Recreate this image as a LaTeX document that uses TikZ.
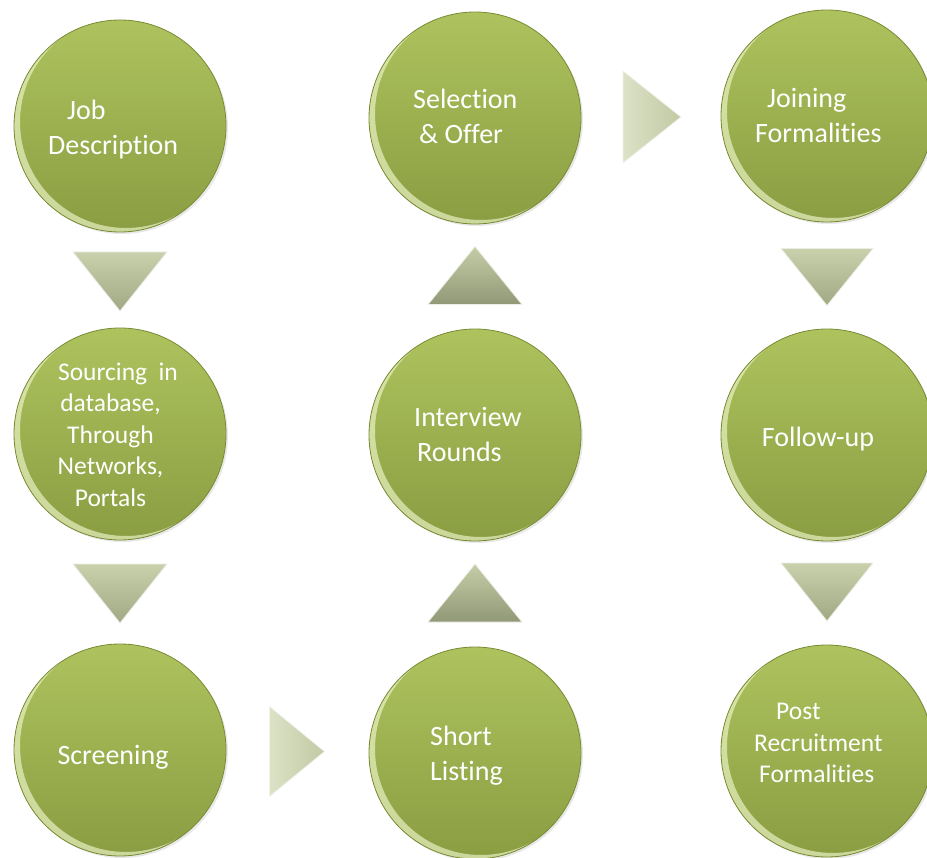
\documentclass[tikz,border=0pt]{standalone}
\usepackage{fontspec}
\setmainfont[RawFeature={-liga;-clig;-dlig;-calt}]{Carlito}
\usetikzlibrary{calc,shadows}
\definecolor{leafhi}{HTML}{AEC35E}
\definecolor{leaflo}{HTML}{8A9D42}
\definecolor{leafedge}{HTML}{778A33}
\definecolor{rimlight}{HTML}{F0F7CC}
\definecolor{arrowhi}{HTML}{C9D1AC}
\definecolor{arrowlo}{HTML}{A0A983}
\definecolor{arrowlight}{HTML}{DCE2C6}
\tikzstyle{bubble} = [circle, minimum size=212pt, inner sep=0pt, top color=leafhi, bottom color=leaflo,
  draw=leafedge, line width=0.8pt, drop shadow={opacity=0.18, shadow xshift=2pt, shadow yshift=-2pt},
  path picture={\fill[rimlight, opacity=0.65, even odd rule] (path picture bounding box.center) circle (106pt)
    ([shift={(6pt,4pt)}]path picture bounding box.center) circle (106pt);}]
\tikzstyle{txt} = [text=white, inner sep=0pt, align=left, font=\fontsize{28}{35}\selectfont,
  execute at begin node=\strut, execute at end node=\strut]
\tikzstyle{small} = [font=\fontsize{25.5}{31.5}\selectfont]
\tikzstyle{downtri} = [top color=arrowhi, bottom color=arrowlo, draw=white!80!arrowlo, line width=0.8pt, line join=round]
\tikzstyle{uptri} = [top color=arrowhi!90!arrowlo, bottom color=arrowlo!90!black, draw=white!80!arrowlo, line width=0.8pt, line join=round]
\tikzstyle{righttri} = [left color=arrowlight, right color=arrowhi!80!arrowlo, draw=white!85!arrowlo, line width=0.8pt, line join=round]

\begin{document}
\begin{tikzpicture}[x=1pt, y=-1pt]
      \useasboundingbox (0,0) rectangle (927,858);

      % Circles
      \node[bubble] (JD) at (120,126) {};
      \node[bubble] (SRC) at (120,434) {};
      \node[bubble] (SC) at (120,750) {};
      \node[bubble] (SO) at (475,118) {};
      \node[bubble] (IR) at (475,435) {};
      \node[bubble] (SL) at (475,753) {};
      \node[bubble] (JF) at (827,116) {};
      \node[bubble] (FU) at (827,435) {};
      \node[bubble] (PR) at (827,751) {};

      % Texts
      \node[txt, anchor=west] (JDt) at (48,132.5) {\hspace*{19pt}Job\\Description};
      \node[txt, small, align=center] (SRCt) at (110.5,439) {\hspace*{15pt}Sourcing\ \ in\\database,\\Through\\Networks,\\Portals};
      \node[txt] (SCt) at (113,757) {Screening};
      \node[txt, anchor=west] (SOt) at (413,121.5) {Selection\\\hspace*{6pt}\& Offer};
      \node[txt, anchor=west] (IRt) at (414,439.5) {Interview\\\hspace*{3pt}Rounds};
      \node[txt, anchor=west] (SLt) at (430,758.5) {Short\\Listing};
      \node[txt, anchor=west] (JFt) at (755,121) {\hspace*{12pt}Joining\\Formalities};
      \node[txt] (FUt) at (818,440) {Follow-up};
      \node[txt, small, anchor=west] (PRt) at (754,748) {\hspace*{22pt}Post\\Recruitment\\\hspace*{5pt}Formalities};

      % Arrows
      \coordinate (M1) at ($(JD)!0.5!(SRC)$);
      \coordinate (M2) at ($(SRC)!0.5!(SC)$);
      \coordinate (M3) at ($(SC)!0.5!(SL)$);
      \coordinate (M4) at ($(SL)!0.5!(IR)$);
      \coordinate (M5) at ($(IR)!0.5!(SO)$);
      \coordinate (M6) at ($(SO)!0.5!(JF)$);
      \coordinate (M7) at ($(JF)!0.5!(FU)$);
      \coordinate (M8) at ($(FU)!0.5!(PR)$);
      \draw[downtri] ($(M1)+(-47,-28)$) -- ($(M1)+(47,-28)$) -- ($(M1)+(0,31)$) -- cycle;
      \draw[downtri] ($(M2)+(-47,-28)$) -- ($(M2)+(47,-28)$) -- ($(M2)+(0,31)$) -- cycle;
      \draw[righttri] ($(M3)+(-28,-45)$) -- ($(M3)+(-28,45)$) -- ($(M3)+(27,0)$) -- cycle;
      \draw[uptri] ($(M4)+(-47,28)$) -- ($(M4)+(47,28)$) -- ($(M4)+(0,-30)$) -- cycle;
      \draw[uptri] ($(M5)+(-47,28)$) -- ($(M5)+(47,28)$) -- ($(M5)+(0,-30)$) -- cycle;
      \draw[righttri] ($(M6)+(-28,-46)$) -- ($(M6)+(-28,46)$) -- ($(M6)+(30,0)$) -- cycle;
      \draw[downtri] ($(M7)+(-46,-27)$) -- ($(M7)+(46,-27)$) -- ($(M7)+(0,30)$) -- cycle;
      \draw[downtri] ($(M8)+(-46,-30)$) -- ($(M8)+(46,-30)$) -- ($(M8)+(0,28)$) -- cycle;
  \end{tikzpicture}
\end{document}
